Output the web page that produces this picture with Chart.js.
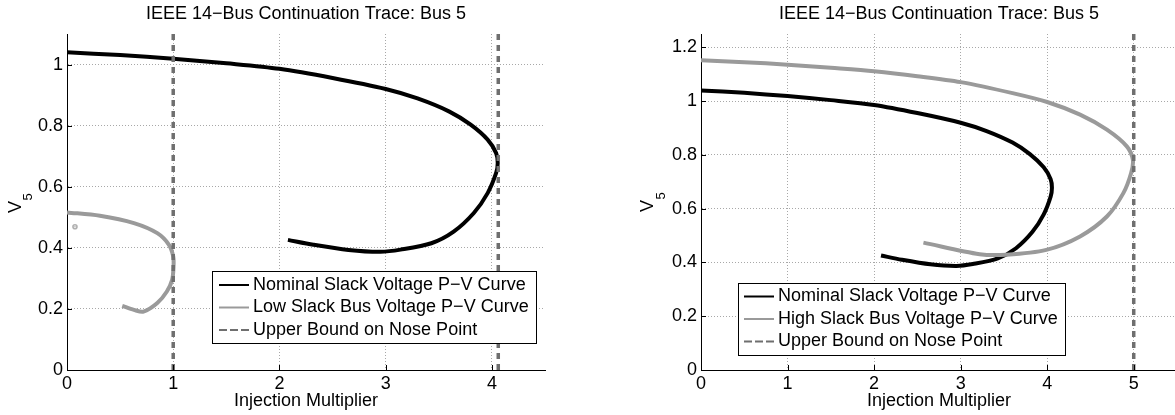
<!DOCTYPE html>
<html>
<head>
<meta charset="utf-8">
<script src="https://cdn.jsdelivr.net/npm/chart.js@4.4.1/dist/chart.umd.min.js"></script>
<style>
  html, body { margin: 0; padding: 0; background: #fff; overflow: hidden; }
  #wrap { position: relative; width: 1175px; height: 415px; overflow: hidden; }
  #left { position: absolute; left: 0; top: 0; }
  #right { position: absolute; left: 587px; top: 0; }
</style>
</head>
<body>
<div id="wrap">
  <canvas id="left" width="587" height="415"></canvas>
  <canvas id="right" width="590" height="415"></canvas>
</div>
<script>
// values
const nominalX = [0, 0.5, 1.0, 1.5, 2.0, 2.5, 3.0, 3.3, 3.6, 3.8, 3.96, 4.04, 4.055, 4.04, 3.96, 3.83, 3.64, 3.43, 3.14, 2.95, 2.65, 2.32, 2.08];
const nominalY = [1.04, 1.031, 1.019, 1.004, 0.986, 0.956, 0.92, 0.889, 0.846, 0.803, 0.754, 0.71, 0.678, 0.645, 0.579, 0.514, 0.453, 0.415, 0.394, 0.387, 0.393, 0.41, 0.426];

const lowX = [0, 0.31, 0.63, 0.85, 0.96, 1.0, 1.003, 0.99, 0.94, 0.85, 0.72, 0.63, 0.52];
const lowY = [0.516, 0.505, 0.481, 0.448, 0.41, 0.372, 0.339, 0.295, 0.257, 0.219, 0.191, 0.197, 0.21];
const lowStrayX = [0.075];
const lowStrayY = [0.469];

const highX = [0, 0.5, 1, 1.5, 2, 2.5, 3, 3.6, 4, 4.38, 4.69, 4.92, 4.99, 4.97, 4.88, 4.69, 4.38, 3.99, 3.53, 3.22, 2.57];
const highY = [1.152, 1.145, 1.136, 1.124, 1.111, 1.093, 1.071, 1.030, 0.997, 0.95, 0.894, 0.832, 0.782, 0.733, 0.658, 0.571, 0.497, 0.447, 0.429, 0.431, 0.474];

const boundLeftX = [1, 4.06];
const boundRightX = [5];

const leftRange = { xMax: 4.5, yMax: 1.1 };
const rightRange = { xMax: 5.5, yMax: 1.25 };

const titleText = "IEEE 14\u2212Bus Continuation Trace: Bus 5";
const xTitleText = "Injection Multiplier";
const nominalLabel = "Nominal Slack Voltage P\u2212V Curve";
const lowLabel = "Low Slack Bus Voltage P\u2212V Curve";
const highLabel = "High Slack Bus Voltage P\u2212V Curve";
const boundLabel = "Upper Bound on Nose Point";

const fontFamily = '"Liberation Sans", Arial, Helvetica, sans-serif';
Chart.defaults.font.family = fontFamily;
Chart.defaults.color = "#000";

function toPoints(xs, ys) {
  return xs.map((x, i) => ({ x: x, y: ys[i] }));
}

function curve(label, xs, ys, color, order) {
  return {
    label: label,
    data: toPoints(xs, ys),
    showLine: true,
    borderColor: color,
    backgroundColor: color,
    borderWidth: 4,
    pointRadius: 0,
    tension: 0.3,
    borderJoinStyle: "round",
    order: order
  };
}

function boundLine(x, yMax) {
  return {
    label: boundLabel,
    data: [{ x: x, y: 0 }, { x: x, y: yMax }],
    showLine: true,
    borderColor: "#6f6f6f",
    borderWidth: 3.5,
    borderDash: [6, 5],
    pointRadius: 0,
    order: 1
  };
}

// matlab style numbers: 1 not 1.0
function tickText(value) {
  return String(Number(value.toFixed(2)));
}

// legend box drawn inside the plot, like the matlab one
const boxLegend = {
  id: "boxLegend",
  afterDatasetsDraw(chart, args, opts) {
    const ctx = chart.ctx;
    ctx.save();
    ctx.fillStyle = "#fff";
    ctx.fillRect(opts.left, opts.top, opts.width, opts.height);
    ctx.strokeStyle = "#000";
    ctx.lineWidth = 1;
    ctx.strokeRect(opts.left + 0.5, opts.top + 0.5, opts.width, opts.height);
    ctx.font = "18px " + fontFamily;
    ctx.textBaseline = "middle";
    ctx.textAlign = "left";
    opts.items.forEach((idx, i) => {
      const ds = chart.data.datasets[idx];
      const y = opts.top + opts.firstRow + i * opts.rowGap;
      ctx.beginPath();
      ctx.strokeStyle = ds.borderColor;
      ctx.lineWidth = 2;
      ctx.setLineDash(ds.borderDash ? [8, 3] : []);
      ctx.moveTo(opts.left + opts.sampleStart, y);
      ctx.lineTo(opts.left + opts.sampleStart + 30, y);
      ctx.stroke();
      ctx.setLineDash([]);
      ctx.fillStyle = "#000";
      ctx.fillText(ds.label, opts.left + opts.textStart, y);
    });
    ctx.restore();
  }
};

// V with subscript 5
const yLabel = {
  id: "yLabel",
  afterDraw(chart, args, opts) {
    const ctx = chart.ctx;
    ctx.save();
    ctx.translate(opts.x, opts.y);
    ctx.rotate(-Math.PI / 2);
    ctx.fillStyle = "#000";
    ctx.textBaseline = "alphabetic";
    ctx.textAlign = "left";
    ctx.font = "18px " + fontFamily;
    ctx.fillText("V", 0, 0);
    const w = ctx.measureText("V").width;
    ctx.font = "13px " + fontFamily;
    ctx.fillText("5", w + 0.5, opts.drop);
    ctx.restore();
  }
};

// small inward tick marks on the left and bottom axes
const innerTicks = {
  id: "innerTicks",
  afterDatasetsDraw(chart) {
    const { ctx, chartArea: a, scales } = chart;
    ctx.save();
    ctx.strokeStyle = "#000";
    ctx.lineWidth = 1;
    ctx.beginPath();
    scales.x.ticks.forEach((t) => {
      const px = Math.round(scales.x.getPixelForValue(t.value)) + 0.5;
      ctx.moveTo(px, a.bottom);
      ctx.lineTo(px, a.bottom - 5);
    });
    scales.y.ticks.forEach((t) => {
      const py = Math.round(scales.y.getPixelForValue(t.value)) + 0.5;
      ctx.moveTo(a.left, py);
      ctx.lineTo(a.left + 5, py);
    });
    ctx.stroke();
    ctx.restore();
  }
};

function makeScales(range, yWidth) {
  return {
    x: {
      type: "linear",
      min: 0,
      max: range.xMax,
      ticks: { stepSize: 1, includeBounds: false, padding: 3, font: { size: 18 }, maxRotation: 0, autoSkip: false, callback: tickText },
      grid: { color: "#a8a8a8", drawTicks: false },
      border: { color: "#000", width: 1, dash: [1, 2] },
      title: { display: true, text: xTitleText, font: { size: 18 }, padding: { top: 0, bottom: 3 } },
      afterFit(s) { s.height = 45; }
    },
    y: {
      type: "linear",
      min: 0,
      max: range.yMax,
      ticks: { stepSize: 0.2, includeBounds: false, padding: 4, font: { size: 18 }, callback: tickText },
      grid: { color: "#a8a8a8", drawTicks: false },
      border: { color: "#000", width: 1, dash: [1, 2] },
      afterFit(s) { s.width = yWidth; }
    }
  };
}

function makeOptions(range, yWidth, padRight, legendOpts, labelOpts) {
  return {
    responsive: false,
    animation: false,
    layout: { padding: { left: 0, right: padRight, top: 0, bottom: 0 } },
    scales: makeScales(range, yWidth),
    plugins: {
      legend: { display: false },
      tooltip: { enabled: false },
      title: {
        display: true,
        text: titleText,
        fullSize: false,
        color: "#000",
        font: { size: 18, weight: "normal" },
        padding: { top: 3, bottom: 9.4 }
      },
      boxLegend: legendOpts,
      yLabel: labelOpts
    }
  };
}

new Chart(document.getElementById("left"), {
  type: "scatter",
  data: {
    datasets: [
      curve(nominalLabel, nominalX, nominalY, "#000000", 3),
      curve(lowLabel, lowX, lowY, "#9a9a9a", 2),
      Object.assign(curve("", lowStrayX, lowStrayY, "#b0b0b0", 2), { showLine: false, pointRadius: 0.8 }),
      boundLine(boundLeftX[0], leftRange.yMax),
      boundLine(boundLeftX[1], leftRange.yMax)
    ]
  },
  options: makeOptions(leftRange, 67, 42,
    { left: 212, top: 271, width: 324, height: 72, firstRow: 14, rowGap: 22.5, sampleStart: 7, textStart: 41, items: [0, 1, 3] },
    { x: 21, y: 213, drop: 11 }),
  plugins: [boxLegend, yLabel, innerTicks]
});

new Chart(document.getElementById("right"), {
  type: "scatter",
  data: {
    datasets: [
      curve(nominalLabel, nominalX, nominalY, "#000000", 3),
      curve(highLabel, highX, highY, "#9a9a9a", 2),
      boundLine(boundRightX[0], rightRange.yMax)
    ]
  },
  options: makeOptions(rightRange, 114, 0,
    { left: 151, top: 283, width: 327, height: 72, firstRow: 13.5, rowGap: 22.5, sampleStart: 6, textStart: 40, items: [0, 1, 2] },
    { x: 66, y: 212, drop: 11.5 }),
  plugins: [boxLegend, yLabel, innerTicks]
});
</script>
</body>
</html>
